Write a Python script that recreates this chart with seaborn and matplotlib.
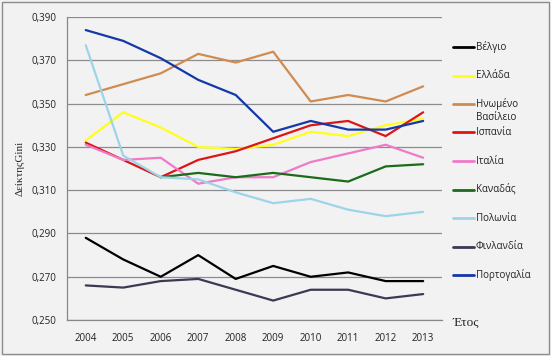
import numpy as np
import pandas as pd
import matplotlib
matplotlib.use("Agg")
import matplotlib.pyplot as plt
from matplotlib.patches import Rectangle
from matplotlib.lines import Line2D
import seaborn as sns

years = [2004, 2005, 2006, 2007, 2008, 2009, 2010, 2011, 2012, 2013]
countries = ["Βέλγιο", "Ελλάδα", "Ηνωμένο\nΒασίλειο", "Ισπανία", "Ιταλία",
             "Καναδάς", "Πολωνία", "Φινλανδία", "Πορτογαλία"]
belgio = [0.288, 0.278, 0.270, 0.280, 0.269, 0.275, 0.270, 0.272, 0.268, 0.268]
ellada = [0.333, 0.346, 0.339, 0.330, 0.329, 0.331, 0.337, 0.335, 0.340, 0.343]
hb = [0.354, 0.359, 0.364, 0.373, 0.369, 0.374, 0.351, 0.354, 0.351, 0.358]
ispania = [0.332, 0.324, 0.316, 0.324, 0.328, 0.334, 0.340, 0.342, 0.335, 0.346]
italia = [0.331, 0.324, 0.325, 0.313, 0.316, 0.316, 0.323, 0.327, 0.331, 0.325]
kanadas = [np.nan, np.nan, 0.316, 0.318, 0.316, 0.318, 0.316, 0.314, 0.321, 0.322]
polonia = [0.377, 0.326, 0.316, 0.315, 0.309, 0.304, 0.306, 0.301, 0.298, 0.300]
finlandia = [0.266, 0.265, 0.268, 0.269, 0.264, 0.259, 0.264, 0.264, 0.260, 0.262]
portogalia = [0.384, 0.379, 0.371, 0.361, 0.354, 0.337, 0.342, 0.338, 0.338, 0.342]

colors = ["#000000", "#FFFF1A", "#D08B50", "#DD1515", "#EE7AC8",
          "#1A6B1A", "#9CD4EA", "#3A3A52", "#1438A8"]

series = [belgio, ellada, hb, ispania, italia, kanadas, polonia, finlandia, portogalia]
df = pd.concat([pd.DataFrame({"year": years, "gini": s, "country": c})
                for c, s in zip(countries, series)]).dropna()

sns.set_style("white")
plt.rcParams["font.family"] = ["Open Sans", "DejaVu Sans"]

W, H = 551, 356
fig = plt.figure(figsize=(W / 100, H / 100), dpi=100, facecolor="#F2F2F2")
ax = fig.add_axes([0.1216, 0.101, 0.6804, 0.851])
ax.set_facecolor("#F2F2F2")

sns.lineplot(data=df, x="year", y="gini", hue="country", hue_order=countries,
             palette=colors, linewidth=1.6, ax=ax, legend=False)

ax.set_xlim(2003.5, 2013.5)
ax.set_ylim(0.250, 0.390)
yt = np.arange(0.250, 0.391, 0.020)
ax.set_yticks(yt)
ax.set_yticklabels([f"{v:.3f}".replace(".", ",") for v in yt])
ax.set_xticks(years)
ax.set_xticks(np.arange(2003.5, 2014, 1), minor=True)
ax.tick_params(axis="x", which="major", length=0, labelsize=7, pad=9, colors="#222222")
ax.tick_params(axis="x", which="minor", length=4, color="#888888")
ax.tick_params(axis="y", length=4, labelsize=7, colors="#222222", color="#888888")
ax.grid(axis="y", color="#8C8C8C", linewidth=0.9)
ax.set_axisbelow(True)
for side in ["top", "right"]:
    ax.spines[side].set_visible(False)
for side in ["left", "bottom"]:
    ax.spines[side].set_color("#888888")
    ax.spines[side].set_linewidth(0.9)

ax.set_xlabel("")
ax.set_ylabel("ΔείκτηςGini", family="Liberation Serif", fontsize=8, labelpad=5)
fig.text(0.846, 0.085, "Έτος", family="Liberation Serif", fontsize=9.5, ha="center")

# legend drawn by hand so that the two-line entry keeps the handle on its first line
top, step = 47, 28.5
for i, (name, c) in enumerate(zip(countries, colors)):
    y = top + i * step
    fig.add_artist(Line2D([453 / W, 474 / W], [1 - y / H, 1 - y / H],
                          color=c, linewidth=2, transform=fig.transFigure))
    for k, line in enumerate(name.split("\n")):
        fig.text(476 / W, 1 - (y + k * 13) / H, line, fontsize=7, color="#222222",
                 va="center", ha="left")

fig.patches.append(Rectangle((0.004, 0.006), 0.992, 0.988, transform=fig.transFigure,
                             fill=False, edgecolor="#8C8C8C", linewidth=1))

fig.savefig("out.png", dpi=100, facecolor=fig.get_facecolor())
